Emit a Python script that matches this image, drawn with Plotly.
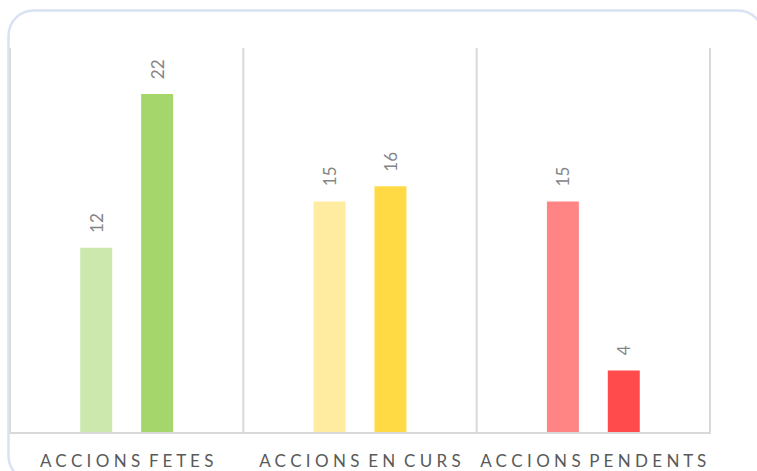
import plotly.graph_objects as go

# Chart data
categories = ["ACCIONS FETES", "ACCIONS EN CURS", "ACCIONS PENDENTS"]
series_a = [12, 15, 15]
series_b = [22, 16, 4]
colors_a = ["#CCE8AD", "#FFECA1", "#FF8585"]
colors_b = ["#A5D66B", "#FFDA45", "#FF4B4B"]

W, H = 757, 471
L, R, T, B = 9, 46, 48, 39
BARGAP = 0.478
BARGROUPGAP = 0.475


def spaced(label):
    # widen the tracking of the category labels
    words = label.split(" ")
    return "  ".join(" ".join(w) for w in words)


fig = go.Figure()
fig.add_bar(x=categories, y=series_a, marker=dict(color=colors_a, line_width=0),
            name="a", hoverinfo="skip")
fig.add_bar(x=categories, y=series_b, marker=dict(color=colors_b, line_width=0),
            name="b", hoverinfo="skip")

# value labels above each bar, rotated
slot = (1 - BARGAP) / 2
annotations = []
for i in range(len(categories)):
    for vals, off in ((series_a, -slot / 2), (series_b, slot / 2)):
        annotations.append(dict(
            x=i + off, y=vals[i], xref="x", yref="y",
            text=str(vals[i]), showarrow=False, textangle=-90,
            xanchor="center", yanchor="bottom", yshift=13,
            font=dict(family="Lato, Open Sans, sans-serif", size=17, color="#858585"),
        ))

shapes = []
# vertical dividers between categories
for xb in [-0.5, 0.5, 1.5, 2.5]:
    shapes.append(dict(type="line", xref="x", yref="paper", x0=xb, x1=xb, y0=0, y1=1,
                       line=dict(color="#D9D9D9", width=2), layer="below"))

# rounded frame around the chart (its right and bottom sides fall outside the page)
pw, ph = W - L - R, H - T - B


def px(x):
    return (x - L) / pw


def py(y):
    return (H - B - y) / ph


def pt(x, y):
    return f"{px(x):.5f},{py(y):.5f}"


x0, y0, x1, y1, r = 8.5, 10.5, 763, 481, 25
k = r * 0.45
path = (
    f"M {pt(x0 + r, y1)} "
    f"C {pt(x0 + k, y1)} {pt(x0, y1 - k)} {pt(x0, y1 - r)} "
    f"L {pt(x0, y0 + r)} "
    f"C {pt(x0, y0 + k)} {pt(x0 + k, y0)} {pt(x0 + r, y0)} "
    f"L {pt(x1 - r, y0)} "
    f"C {pt(x1 - k, y0)} {pt(x1, y0 + k)} {pt(x1, y0 + r)}"
)
shapes.append(dict(type="path", xref="paper", yref="paper", path=path,
                   line=dict(color="#D9E2F3", width=2.5), fillcolor="rgba(0,0,0,0)"))

fig.update_layout(
    width=W, height=H,
    margin=dict(l=L, r=R, t=T, b=B, pad=0, autoexpand=False),
    paper_bgcolor="white", plot_bgcolor="white",
    barmode="group", bargap=BARGAP, bargroupgap=BARGROUPGAP,
    showlegend=False,
    annotations=annotations,
    shapes=shapes,
    xaxis=dict(
        tickmode="array", tickvals=categories, ticktext=[spaced(c) for c in categories],
        showgrid=False, zeroline=False, automargin=False,
        showline=True, linecolor="#D9D9D9", linewidth=2,
        ticks="", ticklabelstandoff=13,
        tickfont=dict(family="Lato, Open Sans, sans-serif", size=17, color="#595959"),
        fixedrange=True,
    ),
    yaxis=dict(range=[0, 25], visible=False, showgrid=False, zeroline=False,
               automargin=False, fixedrange=True),
)

fig.write_html("out.html")
